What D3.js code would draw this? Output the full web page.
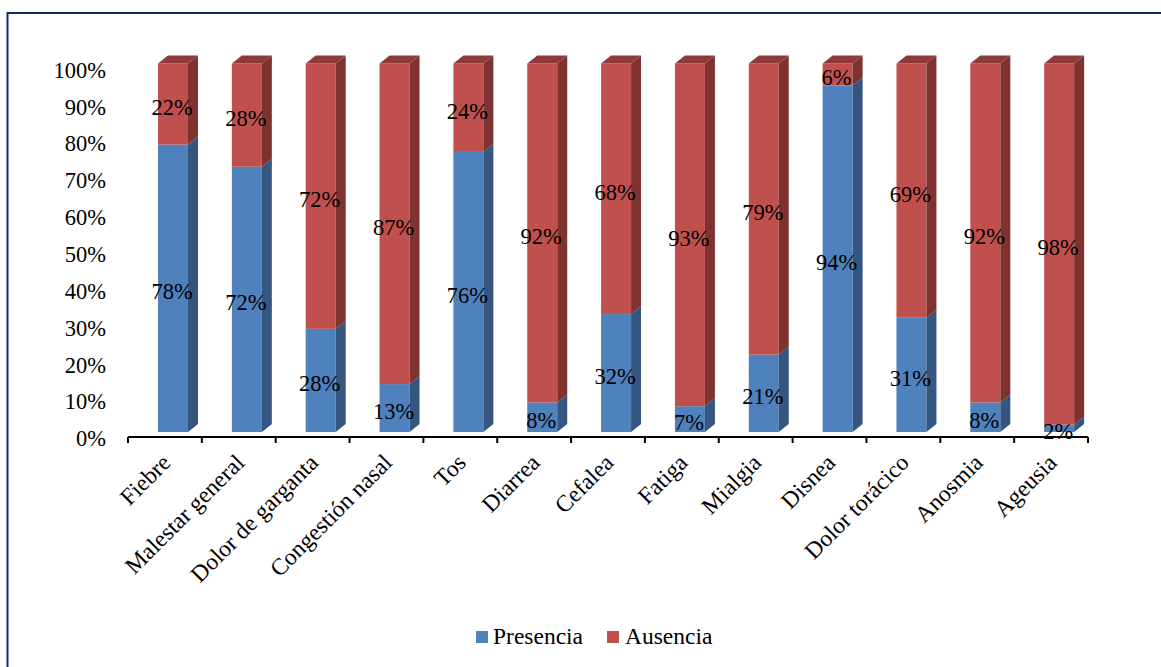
<!DOCTYPE html>
<html>
<head>
<meta charset="utf-8">
<script src="https://cdn.jsdelivr.net/npm/d3@7"></script>
<style>
  html, body { margin: 0; padding: 0; background: #fff; }
  svg { display: block; }
</style>
</head>
<body>
<svg id="chart" width="1161" height="667"></svg>
<script>
const categories = ["Fiebre", "Malestar general", "Dolor de garganta", "Congestión nasal", "Tos",
  "Diarrea", "Cefalea", "Fatiga", "Mialgia", "Disnea", "Dolor torácico", "Anosmia", "Ageusia"];
const presencia = [78, 72, 28, 13, 76, 8, 32, 7, 21, 94, 31, 8, 2];
const ausencia  = [22, 28, 72, 87, 24, 92, 68, 93, 79, 6, 69, 92, 98];
const seriesNames = ["Presencia", "Ausencia"];
const yTicks = [0, 10, 20, 30, 40, 50, 60, 70, 80, 90, 100];

const colors = {
  Presencia: { front: "#4F81BD", side: "#34567F", top: "#3F6799" },
  Ausencia:  { front: "#C0504D", side: "#7F3331", top: "#8E3A38" }
};

const FONT = '"Liberation Serif", "Times New Roman", Times, serif';
function styleText(sel, size) {
  return sel.style("font-family", FONT).style("font-size", size + "px").style("fill", "#000");
}

const svg = d3.select("#chart");
const W = 1161, H = 667;

// border
svg.append("path")
  .attr("d", `M7.5,${H} L7.5,13 L${W},13`)
  .attr("fill", "none").attr("stroke", "#0E2A6A").attr("stroke-width", 2);

const x = d3.scaleBand().domain(categories).range([128, 1088]).paddingInner(0).paddingOuter(0);
const y = d3.scaleLinear().domain([0, 100]).range([432, 63.5]);
const barW = 30, barOff = 30;
const dx = 10, dy = -8;

// y tick labels (no axis line)
const yAxis = d3.axisLeft(y).tickValues(yTicks).tickFormat(d => d + "%").tickSize(0).tickPadding(0);
const yg = svg.append("g").attr("transform", "translate(106,6.5)").call(yAxis);
yg.select(".domain").remove();
styleText(yg.selectAll("text"), 22.5);

// bars
const stackData = categories.map((c, i) => ({ cat: c, Presencia: presencia[i], Ausencia: ausencia[i] }));
const stack = d3.stack().keys(seriesNames)(stackData);

const barsG = svg.append("g");
categories.forEach((c, i) => {
  const x0 = x(c) + barOff, x1 = x0 + barW;
  stack.forEach((layer, li) => {
    const key = layer.key;
    const [v0, v1] = layer[i];
    const yb = y(v0), yt = y(v1);
    const col = colors[key];
    const g = barsG.append("g");
    g.append("rect").attr("x", x0).attr("y", yt).attr("width", barW).attr("height", yb - yt)
      .attr("fill", col.front);
    g.append("path")
      .attr("d", `M${x1},${yb} L${x1 + dx},${yb + dy} L${x1 + dx},${yt + dy} L${x1},${yt} Z`)
      .attr("fill", col.side);
    if (li === stack.length - 1) {
      g.append("path")
        .attr("d", `M${x0},${yt} L${x0 + dx},${yt + dy} L${x1 + dx},${yt + dy} L${x1},${yt} Z`)
        .attr("fill", col.top);
    }
  });
});

// value labels
const labelsG = svg.append("g");
categories.forEach((c, i) => {
  const cx = x(c) + barOff + barW / 2 - 1;
  stack.forEach(layer => {
    const [v0, v1] = layer[i];
    const val = v1 - v0;
    styleText(labelsG.append("text")
      .attr("x", cx).attr("y", (y(v0) + y(v1)) / 2 + 3)
      .attr("dy", "0.35em")
      .attr("text-anchor", "middle")
      .text(val + "%"), 22.5);
  });
});

// x axis
const xAxisG = svg.append("g").attr("transform", "translate(0,437)");
xAxisG.append("line").attr("x1", 128).attr("x2", 1088).attr("y1", 0).attr("y2", 0)
  .attr("stroke", "#000").attr("stroke-width", 2);
const bounds = categories.map(c => x(c)).concat([x(categories[categories.length - 1]) + x.bandwidth()]);
xAxisG.selectAll("line.tick").data(bounds).enter().append("line")
  .attr("class", "tick")
  .attr("x1", d => d).attr("x2", d => d).attr("y1", 0).attr("y2", 6)
  .attr("stroke", "#000").attr("stroke-width", 2);

styleText(svg.append("g").selectAll("text").data(categories).enter().append("text")
  .attr("transform", d => `translate(${x(d) + x.bandwidth() / 2 + 7},464) rotate(-45)`)
  .attr("text-anchor", "end")
  .text(d => d), 23.5);

// legend
const legend = [
  { name: "Presencia", sq: 476, tx: 493 },
  { name: "Ausencia", sq: 607, tx: 625 }
];
const lg = svg.append("g");
legend.forEach(l => {
  lg.append("rect").attr("x", l.sq).attr("y", 631).attr("width", 12).attr("height", 12)
    .attr("fill", colors[l.name].front);
  styleText(lg.append("text").attr("x", l.tx).attr("y", 644).text(l.name), 23.5);
});
</script>
</body>
</html>
